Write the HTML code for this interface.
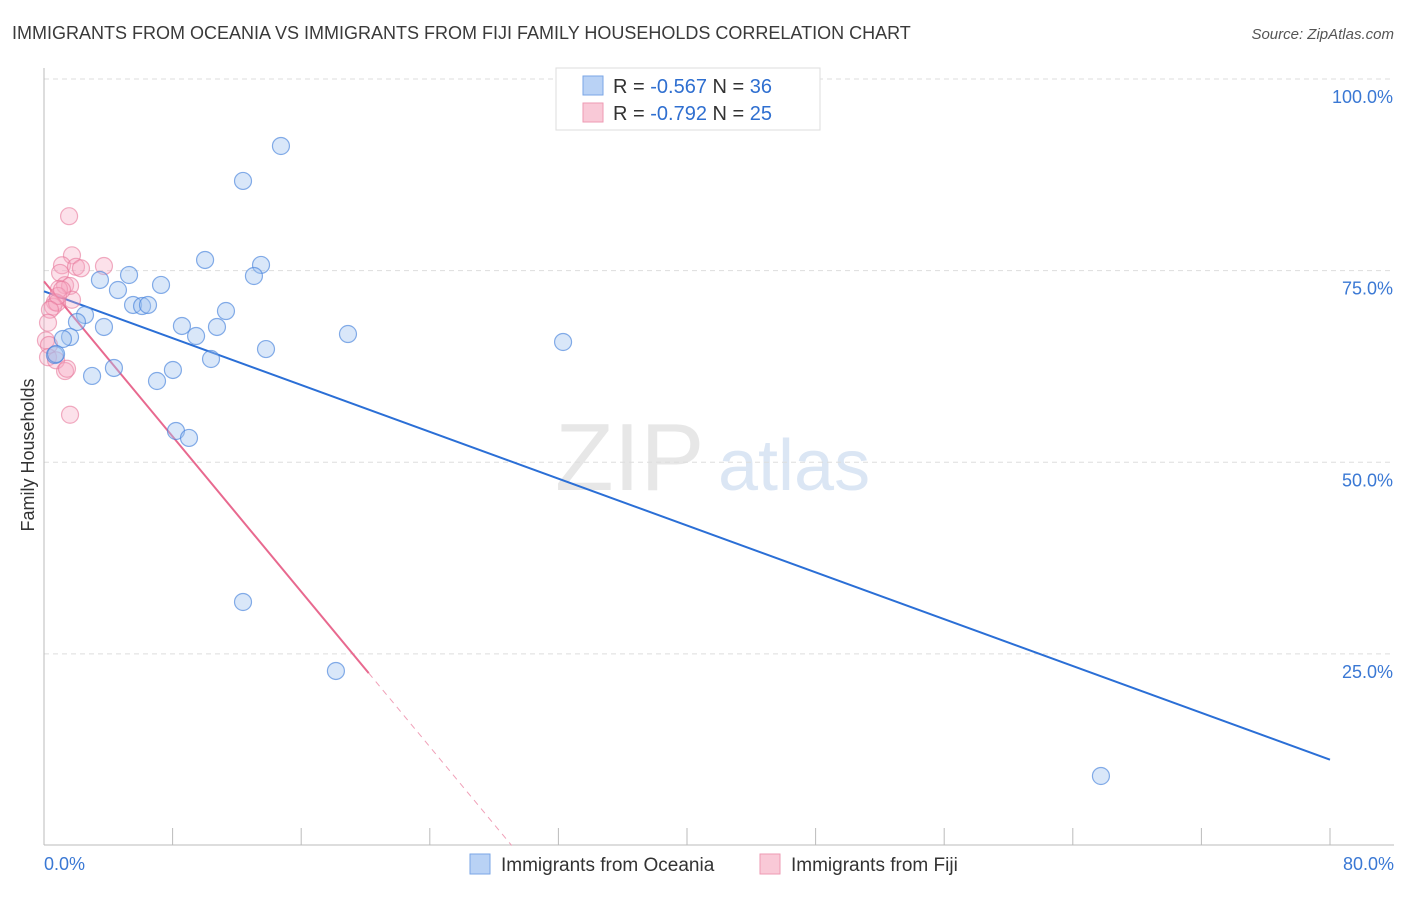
<!DOCTYPE html>
<html><head><meta charset="utf-8"><style>
body{margin:0;background:#fff;font-family:"Liberation Sans",sans-serif;}
svg text{font-family:"Liberation Sans",sans-serif;}
</style></head><body>
<svg id="chart" width="1406" height="892" xmlns="http://www.w3.org/2000/svg">
<text x="12" y="39" font-size="18" fill="#3a3a3a">IMMIGRANTS FROM OCEANIA VS IMMIGRANTS FROM FIJI FAMILY HOUSEHOLDS CORRELATION CHART</text>
<text x="1394" y="39" font-size="15" fill="#555" font-style="italic" text-anchor="end">Source: ZipAtlas.com</text>
<g><text x="555" y="490" font-size="96" fill="#d8d8d8" font-family="Liberation Serif" opacity="0.6">ZIP</text><text x="718" y="490" font-size="72" fill="#c4d6ee" opacity="0.6">atlas</text></g>
<g id="grid"></g>
<g id="axes"></g>
<g id="lines"></g>
<g id="points"></g>
<text transform="translate(34,455) rotate(-90)" font-size="18" fill="#333" text-anchor="middle">Family Households</text>
<g>
<rect x="556" y="68" width="264" height="62" fill="#fff" stroke="#ddd"/>
<rect x="583" y="76" width="20" height="19" fill="#b9d2f5" stroke="#7aa6e6"/>
<text x="613" y="93" font-size="20" fill="#333">R = <tspan fill="#2f6fd0">-0.567</tspan>   N = <tspan fill="#2f6fd0">36</tspan></text>
<rect x="583" y="103" width="20" height="19" fill="#f9c9d7" stroke="#ee9ab3"/>
<text x="613" y="120" font-size="20" fill="#333">R = <tspan fill="#2f6fd0">-0.792</tspan>   N = <tspan fill="#2f6fd0">25</tspan></text>
</g>
<g>
<rect x="470" y="854" width="20" height="20" fill="#b9d2f5" stroke="#7aa6e6"/>
<text x="501" y="871" font-size="19" fill="#333">Immigrants from Oceania</text>
<rect x="760" y="854" width="20" height="20" fill="#f9c9d7" stroke="#ee9ab3"/>
<text x="791" y="871" font-size="19" fill="#333">Immigrants from Fiji</text>
</g>
</svg>
<script>
const yTicks=[25,50,75,100];
const yTickLabels=["25.0%","50.0%","75.0%","100.0%"];
const xTicks=[0,8,16,24,32,40,48,56,64,72,80];
const oceaniaX=[14.74,12.38,10.02,13.50,13.06,5.29,3.48,7.28,4.60,5.54,6.10,6.47,11.32,2.55,2.05,3.73,8.58,10.76,9.46,18.91,32.29,1.62,1.18,13.81,0.68,0.75,10.39,4.35,8.02,2.99,7.03,8.21,9.02,12.38,18.16,65.75];
const oceaniaY=[91.26,86.70,76.39,75.74,74.30,74.43,73.78,73.13,72.47,70.52,70.38,70.52,69.73,69.21,68.30,67.65,67.78,67.65,66.47,66.73,65.69,66.34,66.08,64.77,63.99,64.12,63.47,62.30,62.04,61.26,60.60,54.08,53.17,31.77,22.77,9.07];
const fijiX=[1.56,1.74,1.12,1.99,2.30,3.73,1.00,1.31,1.62,0.93,1.74,0.68,0.56,0.81,0.87,0.37,1.12,0.25,0.12,0.31,0.25,0.75,1.31,1.43,1.62];
const fijiY=[82.1,77.0,75.7,75.5,75.3,75.6,74.7,73.1,73.0,72.6,71.2,70.9,70.3,70.8,71.7,69.9,72.5,68.2,65.9,65.3,63.7,63.3,61.9,62.2,56.2];
const oceaniaTrend=[72.3,11.2]; // y at x=0 and x=80
const fijiTrend=[73.6,-2.53]; // intercept, slope
const fijiSolidEnd=20.2;

const NS="http://www.w3.org/2000/svg";
const X0=44,X1=1330,Y0=845.5,Y100=79;
const sx=v=>X0+(X1-X0)*v/80;
const sy=v=>Y0-(Y0-Y100)*v/100;
function mk(tag,attrs,parent){const e=document.createElementNS(NS,tag);for(const k in attrs)e.setAttribute(k,attrs[k]);document.getElementById(parent).appendChild(e);return e;}

yTicks.forEach((t,i)=>{
 const l=mk('line',{x1:X0,x2:1394,y1:sy(t),y2:sy(t),stroke:'#ddd','stroke-dasharray':'5,4'},'grid');
 
 
 const tx=mk('text',{x:1393,y:sy(t)+24,'font-size':18,fill:'#3a78d4','text-anchor':'end'},'grid');
 tx.textContent=yTickLabels[i];
 
 
});
const ax=mk('line',{x1:X0,x2:X0,y1:68,y2:845,stroke:'#bbb'},'axes');


const bx=mk('line',{x1:X0,x2:1394,y1:845,y2:845,stroke:'#bbb'},'axes');


xTicks.forEach(t=>{
 const l=mk('line',{x1:sx(t),x2:sx(t),y1:828,y2:845,stroke:'#bbb'},'axes');
 
 
});
const xl0=mk('text',{x:44,y:870,'font-size':18,fill:'#3a78d4'},'axes');xl0.textContent='0.0%';


const xl1=mk('text',{x:1394,y:870,'font-size':18,fill:'#3a78d4','text-anchor':'end'},'axes');xl1.textContent='80.0%';



fijiX.forEach((x,i)=>{
 const c=mk('circle',{cx:sx(x),cy:sy(fijiY[i]),r:8.5,fill:'rgba(247,170,195,0.35)',stroke:'rgba(232,120,155,0.6)','stroke-width':1.2},'points');
 
 
});
oceaniaX.forEach((x,i)=>{
 const c=mk('circle',{cx:sx(x),cy:sy(oceaniaY[i]),r:8.5,fill:'rgba(160,195,240,0.4)',stroke:'rgba(70,130,220,0.65)','stroke-width':1.2},'points');
 
 
});
const bl=mk('line',{x1:sx(0),y1:sy(oceaniaTrend[0]),x2:sx(80),y2:sy(oceaniaTrend[1]),stroke:'#2b6fd6','stroke-width':2},'lines');


const fz=-fijiTrend[0]/fijiTrend[1];
const pl=mk('line',{x1:sx(0),y1:sy(fijiTrend[0]),x2:sx(fijiSolidEnd),y2:sy(fijiTrend[0]+fijiTrend[1]*fijiSolidEnd),stroke:'#e8698f','stroke-width':2},'lines');


const pd=mk('line',{x1:sx(fijiSolidEnd),y1:sy(fijiTrend[0]+fijiTrend[1]*fijiSolidEnd),x2:sx(fz),y2:sy(0),stroke:'#f0a0b8','stroke-width':1,'stroke-dasharray':'6,5'},'lines');


</script>
</body></html>
